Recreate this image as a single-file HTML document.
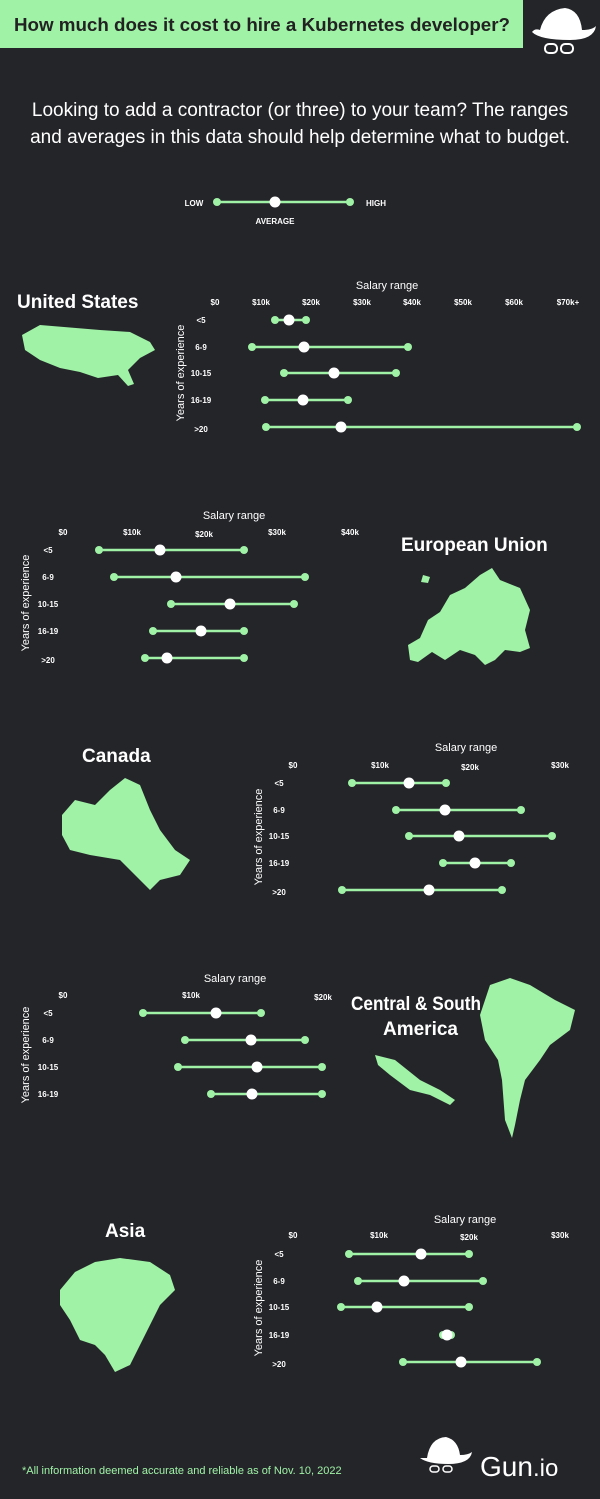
<!DOCTYPE html>
<html><head><meta charset="utf-8"><style>
html,body{margin:0;padding:0;background:#242529;}
svg{display:block}
text{font-family:"Liberation Sans",sans-serif;}
.t{fill:#fff;font-size:8px;font-weight:bold;text-anchor:middle}
.r{fill:#fff;font-size:8px;font-weight:bold;text-anchor:middle}
.s{fill:#fff;font-size:11px;text-anchor:middle}
.h{fill:#fff;font-size:19px;font-weight:bold}
.m{fill:#9ff2a6}
</style></head><body>
<svg id="c" width="600" height="1499" viewBox="0 0 600 1499" xmlns="http://www.w3.org/2000/svg">
<rect width="600" height="1499" fill="#242529"/>
<rect x="0" y="0" width="523" height="48" fill="#9ff2a6"/>
<text x="14" y="31" font-size="18" font-weight="bold" fill="#222" textLength="496" lengthAdjust="spacingAndGlyphs">How much does it cost to hire a Kubernetes developer?</text>
<g fill="#fff">
<path d="M540 30 Q545 10 565 8 Q580 10 582 30 Q592 30 596 26 Q594 40 570 40 Q540 40 532 32 Q535 28 540 30Z"/>
<rect x="545" y="44" width="12" height="9" rx="4" fill="none" stroke="#fff" stroke-width="2"/>
<rect x="561" y="44" width="12" height="9" rx="4" fill="none" stroke="#fff" stroke-width="2"/>
</g>
<text x="300" y="116" font-size="19" fill="#fff" text-anchor="middle">Looking to add a contractor (or three) to your team? The ranges</text>
<text x="300" y="143" font-size="19" fill="#fff" text-anchor="middle">and averages in this data should help determine what to budget.</text>
<text x="194" y="206" class="r">LOW</text><text x="376" y="206" class="r">HIGH</text><text x="275" y="224" class="r">AVERAGE</text>

<text x="17" y="308" class="h">United States</text>
<text x="387" y="289" class="s">Salary range</text>
<text x="215" y="305" class="t">$0</text><text x="261" y="305" class="t">$10k</text><text x="311" y="305" class="t">$20k</text><text x="362" y="305" class="t">$30k</text><text x="412" y="305" class="t">$40k</text><text x="463" y="305" class="t">$50k</text><text x="514" y="305" class="t">$60k</text><text x="568" y="305" class="t">$70k+</text>
<text x="201" y="323" class="r">&lt;5</text><text x="201" y="350" class="r">6-9</text><text x="201" y="376" class="r">10-15</text><text x="201" y="403" class="r">16-19</text><text x="201" y="432" class="r">&gt;20</text>
<text transform="translate(184,373) rotate(-90)" class="s">Years of experience</text>
<path class="m" d="M22 335 L40 325 L100 330 L130 332 L150 342 L155 350 L140 358 L128 370 L134 384 L128 386 L118 375 L98 378 L80 372 L60 368 L40 360 L25 350Z"/>

<text x="401" y="551" class="h">European Union</text>
<text x="234" y="519" class="s">Salary range</text>
<text x="63" y="535" class="t">$0</text><text x="132" y="535" class="t">$10k</text><text x="204" y="537" class="t">$20k</text><text x="277" y="535" class="t">$30k</text><text x="350" y="535" class="t">$40k</text>
<text x="48" y="553" class="r">&lt;5</text><text x="48" y="580" class="r">6-9</text><text x="48" y="607" class="r">10-15</text><text x="48" y="634" class="r">16-19</text><text x="48" y="663" class="r">&gt;20</text>
<text transform="translate(29,603) rotate(-90)" class="s">Years of experience</text>
<path class="m" d="M410 660 L408 645 L420 638 L428 620 L440 612 L450 595 L465 588 L480 575 L492 568 L500 580 L520 588 L530 610 L525 630 L530 648 L520 652 L505 650 L495 660 L485 665 L475 655 L460 650 L445 660 L432 652 L418 662Z"/>
<path class="m" d="M423 575 L430 577 L428 583 L421 582Z"/>

<text x="82" y="762" class="h">Canada</text>
<text x="466" y="751" class="s">Salary range</text>
<text x="293" y="768" class="t">$0</text><text x="380" y="768" class="t">$10k</text><text x="470" y="770" class="t">$20k</text><text x="560" y="768" class="t">$30k</text>
<text x="279" y="786" class="r">&lt;5</text><text x="279" y="813" class="r">6-9</text><text x="279" y="839" class="r">10-15</text><text x="279" y="866" class="r">16-19</text><text x="279" y="895" class="r">&gt;20</text>
<text transform="translate(262,837) rotate(-90)" class="s">Years of experience</text>
<path class="m" d="M62 815 L75 800 L95 805 L110 790 L125 778 L140 785 L150 810 L160 830 L175 850 L190 860 L180 875 L160 880 L150 890 L140 880 L120 860 L90 855 L70 850 L62 835Z"/>

<path class="m" d="M490 985 L510 978 L530 985 L555 1000 L575 1010 L570 1030 L550 1045 L540 1060 L525 1080 L520 1100 L515 1125 L512 1138 L505 1120 L502 1080 L498 1060 L485 1040 L480 1015Z"/>
<path class="m" d="M375 1055 L395 1060 L420 1080 L440 1090 L455 1100 L450 1105 L430 1095 L410 1090 L390 1075 L378 1065Z"/>
<text x="351" y="1010" class="h" font-size="17.5" textLength="130" lengthAdjust="spacingAndGlyphs">Central &amp; South</text>
<text x="383" y="1035" class="h" font-size="17.5">America</text>
<text x="235" y="982" class="s">Salary range</text>
<text x="63" y="998" class="t">$0</text><text x="191" y="998" class="t">$10k</text><text x="323" y="1000" class="t">$20k</text>
<text x="48" y="1016" class="r">&lt;5</text><text x="48" y="1043" class="r">6-9</text><text x="48" y="1070" class="r">10-15</text><text x="48" y="1097" class="r">16-19</text>
<text transform="translate(29,1055) rotate(-90)" class="s">Years of experience</text>

<text x="105" y="1237" class="h">Asia</text>
<text x="465" y="1223" class="s">Salary range</text>
<text x="293" y="1238" class="t">$0</text><text x="379" y="1238" class="t">$10k</text><text x="469" y="1240" class="t">$20k</text><text x="560" y="1238" class="t">$30k</text>
<text x="279" y="1257" class="r">&lt;5</text><text x="279" y="1284" class="r">6-9</text><text x="279" y="1310" class="r">10-15</text><text x="279" y="1338" class="r">16-19</text><text x="279" y="1367" class="r">&gt;20</text>
<text transform="translate(262,1308) rotate(-90)" class="s">Years of experience</text>
<path class="m" d="M60 1290 L75 1272 L95 1262 L120 1258 L150 1262 L170 1275 L175 1290 L160 1305 L150 1325 L140 1345 L130 1365 L115 1372 L105 1355 L95 1345 L80 1340 L70 1320 L60 1305Z"/>

<text x="22" y="1474" font-size="11" fill="#9ff2a6">*All information deemed accurate and reliable as of Nov. 10, 2022</text>
<g fill="#fff">
<path d="M427 1458 Q430 1438 446 1437 Q458 1440 460 1455 Q468 1455 472 1452 Q470 1464 448 1464 Q428 1464 420 1458Z"/>
<rect x="430" y="1466" width="9" height="6" rx="3" fill="none" stroke="#fff" stroke-width="1.5"/>
<rect x="443" y="1466" width="9" height="6" rx="3" fill="none" stroke="#fff" stroke-width="1.5"/>
<text x="480" y="1476" font-size="28" fill="#fff">Gun<tspan font-size="24">.io</tspan></text>
</g>
<g id="d"></g>
</svg>
<script>
var rows=[[202,217,275,350],
[320,275,289,306],[347,252,304,408],[373,284,334,396],[400,265,303,348],[427,266,341,577],
[550,99,160,244],[577,114,176,305],[604,171,230,294],[631,153,201,244],[658,145,167,244],
[783,352,409,446],[810,396,445,521],[836,409,459,552],[863,443,475,511],[890,342,429,502],
[1013,143,216,261],[1040,185,251,305],[1067,178,257,322],[1094,211,252,322],
[1254,349,421,469],[1281,358,404,483],[1307,341,377,469],[1335,443,447,451],[1362,403,461,537]];
var g=document.getElementById('d'),s='';
rows.forEach(function(r){var y=r[0];
s+='<line x1="'+r[1]+'" x2="'+r[3]+'" y1="'+y+'" y2="'+y+'" stroke="#9ff2a6" stroke-width="2.5"/>';
s+='<circle cx="'+r[1]+'" cy="'+y+'" r="4" fill="#9ff2a6"/><circle cx="'+r[3]+'" cy="'+y+'" r="4" fill="#9ff2a6"/>';
s+='<circle cx="'+r[2]+'" cy="'+y+'" r="5.5" fill="#fff"/>';});
g.innerHTML=s;
</script>
</body></html>
